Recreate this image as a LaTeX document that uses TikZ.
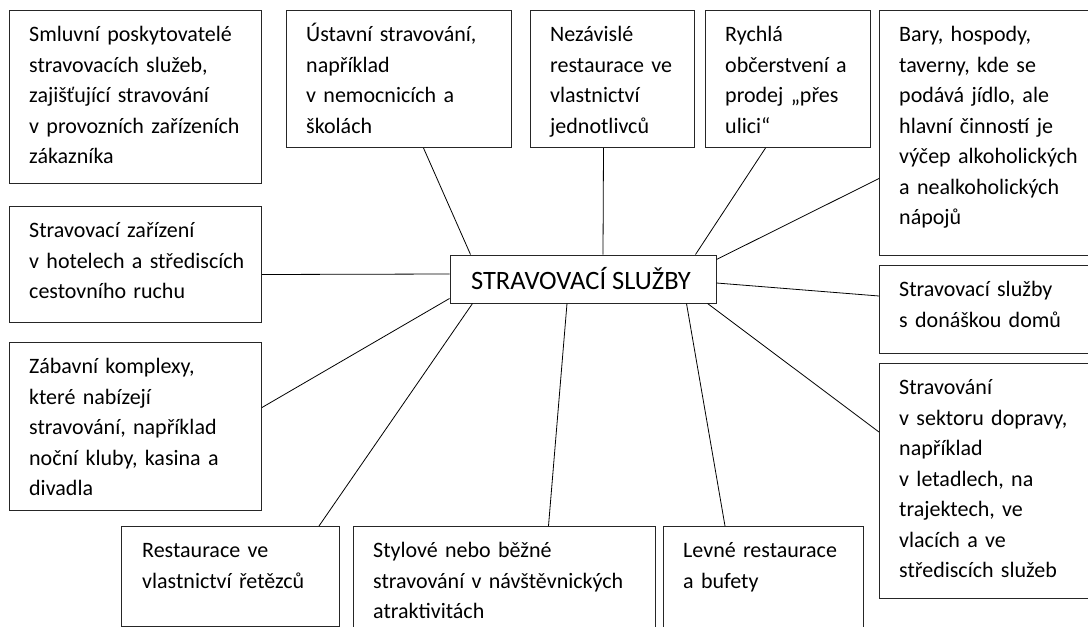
\documentclass[tikz,border=0pt]{standalone}
\usepackage{fontspec}
\setmainfont{Carlito}
\usepackage{tikz}
\frenchspacing

\tikzset{
  box/.style={draw=black!85, line width=1pt, anchor=north west, inner sep=0pt},
  txt/.style={anchor=base west, align=left, text width=320pt, inner sep=0pt,
    xshift=20pt, yshift=-31.5pt, font=\fontsize{22}{30.5}\selectfont},
  hub/.style={draw=black!85, line width=1pt, inner sep=0pt,
    minimum width=266pt, minimum height=48pt, font=\fontsize{26.5}{30}\selectfont},
  link/.style={line width=0.8pt}
}

\begin{document}
\begin{tikzpicture}[x=1pt, y=-1pt]
    \useasboundingbox[fill=white] (0,0) rectangle (1088,627);

    \node[hub] (hub) at (583,279) {STRAVOVACÍ SLUŽBY\hspace*{4pt}};

    % upper row
    \node[box, minimum width=252, minimum height=173,
      label={[txt]north west:Smluvní poskytovatelé\\stravovacích služeb,\\zajišťující stravování\\v provozních zařízeních\\zákazníka}] (smluvni) at (9,10) {};
    \node[box, minimum width=225, minimum height=137,
      label={[txt]north west:Ústavní stravování,\\například\\v nemocnicích a\\školách}] (ustavni) at (286,10) {};
    \node[box, minimum width=164, minimum height=137,
      label={[txt]north west:Nezávislé\\restaurace ve\\vlastnictví\\jednotlivců}] (nezavisle) at (530,10) {};
    \node[box, minimum width=165, minimum height=137,
      label={[txt]north west:Rychlá\\občerstvení a\\prodej „přes\\ulici“}] (rychla) at (705,10) {};
    \node[box, minimum width=215, minimum height=245,
      label={[txt]north west:Bary, hospody,\\taverny, kde se\\podává jídlo, ale\\hlavní činností je\\výčep alkoholických\\a nealkoholických\\nápojů}] (bary) at (879,10) {};

    % left and right side
    \node[box, minimum width=252, minimum height=116,
      label={[txt]north west:Stravovací zařízení\\v hotelech a střediscích\\cestovního ruchu}] (hotely) at (9,206) {};
    \node[box, minimum width=252, minimum height=168,
      label={[txt]north west:Zábavní komplexy,\\které nabízejí\\stravování, například\\noční kluby, kasina a\\divadla}] (zabavni) at (9,342) {};
    \node[box, minimum width=215, minimum height=88,
      label={[txt]north west:Stravovací služby\\s donáškou domů}] (donaska) at (879,265) {};
    \node[box, minimum width=215, minimum height=235,
      label={[txt]north west:Stravování\\v sektoru dopravy,\\například\\v letadlech, na\\trajektech, ve\\vlacích a ve\\střediscích služeb}] (doprava) at (879,363) {};

    % bottom row
    \node[box, minimum width=218, minimum height=100,
      label={[txt, xshift=1pt]north west:Restaurace ve\\vlastnictví řetězců}] (retezce) at (121,526) {};
    \node[box, minimum width=302, minimum height=110,
      label={[txt]north west:Stylové nebo běžné\\stravování v návštěvnických\\atraktivitách}] (stylove) at (353,526) {};
    \node[box, minimum width=200, minimum height=110,
      label={[txt]north west:Levné restaurace\\a bufety}] (levne) at (663,526) {};

    \path[link] ([xshift=21pt]hub.north west)    edge ([xshift=24.5pt]ustavni.south)
                ([xshift=20pt]hub.north)         edge ([xshift=-9pt]nezavisle.south)
                ([xshift=-21pt]hub.north east)   edge ([xshift=-22.5pt]rychla.south)
                ([yshift=-5pt]hub.north east)    edge ([yshift=-45.5pt]bary.west)
                ([yshift=5pt]hub.west)           edge ([yshift=-10pt]hotely.east)
                ([yshift=5pt]hub.south west)     edge ([yshift=19pt]zabavni.east)
                ([xshift=23pt]hub.south west)    edge ([xshift=-21pt]retezce.north east)
                ([xshift=-16pt]hub.south)        edge ([xshift=44pt]stylove.north)
                ([xshift=-30pt]hub.south east)   edge ([xshift=62pt]levne.north west)
                ([xshift=-9pt]hub.south east)    edge ([yshift=-69pt]doprava.north west)
                ([yshift=-4pt]hub.east)          edge ([yshift=-31pt]donaska.north west);
\end{tikzpicture}
\end{document}
